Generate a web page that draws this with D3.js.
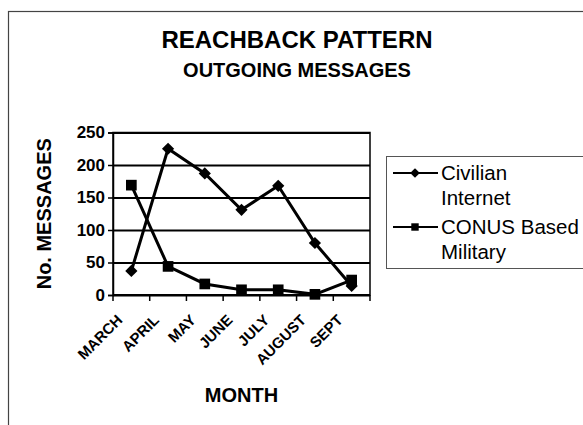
<!DOCTYPE html>
<html>
<head>
<meta charset="utf-8">
<script src="https://cdn.jsdelivr.net/npm/d3@7"></script>
<style>
  body { margin: 0; background: #fff; }
  svg { font-family: "Liberation Sans", Arial, sans-serif; }
</style>
</head>
<body>
<div id="chart"></div>
<script>
var w = 583;
var h = 425;

// chart values
var months = ["MARCH", "APRIL", "MAY", "JUNE", "JULY", "AUGUST", "SEPT"];
var civilian = [37, 225, 187, 131, 168, 80, 14];
var military = [169, 44, 17, 8, 8, 1, 23];
var yTicks = [0, 50, 100, 150, 200, 250];
var seriesNames = [["Civilian", "Internet"], ["CONUS Based", "Military"]];

var plot = {left: 113, right: 370, top: 132.5, bottom: 295};

var svg = d3.select("#chart")
            .append("svg")
            .attr("width", w)
            .attr("height", h);

// outer chart frame (runs off the right and bottom edge)
svg.append("rect")
    .attr("x", 8.5).attr("y", 11.5)
    .attr("width", 700).attr("height", 600)
    .attr("fill", "none")
    .attr("stroke", "#444")
    .attr("stroke-width", 1.2);

// titles
svg.append("text")
    .attr("x", 297).attr("y", 48)
    .attr("text-anchor", "middle")
    .style("font-size", "24px").style("font-weight", "bold")
    .text("REACHBACK PATTERN");
svg.append("text")
    .attr("x", 297).attr("y", 77)
    .attr("text-anchor", "middle")
    .style("font-size", "20px").style("font-weight", "bold")
    .text("OUTGOING MESSAGES");

// scales
var xScale = d3.scaleBand()
    .domain(months)
    .range([plot.left, plot.right]);
var tickScale = d3.scaleLinear()
    .domain([0, months.length])
    .range([plot.left, plot.right]);
var yScale = d3.scaleLinear()
    .domain([0, 250])
    .range([plot.bottom, plot.top]);

// plot area
svg.append("rect")
    .attr("x", plot.left).attr("y", plot.top)
    .attr("width", plot.right - plot.left)
    .attr("height", plot.bottom - plot.top)
    .attr("fill", "#fff")
    .attr("stroke", "#000")
    .attr("stroke-width", 1.5);

// gridlines
svg.append("g")
    .attr("transform", "translate(" + plot.left + ",0)")
    .call(d3.axisLeft(yScale).tickValues(yTicks).tickSize(-(plot.right - plot.left)).tickFormat(""))
    .call(g => g.select(".domain").remove())
    .selectAll("line")
    .attr("stroke", "#000")
    .attr("stroke-width", 1.8);

// y axis
var yAxis = svg.append("g")
    .attr("transform", "translate(" + plot.left + ",0)")
    .call(d3.axisLeft(yScale).tickValues(yTicks).tickSize(5).tickPadding(3));
yAxis.select(".domain").attr("stroke", "#000").attr("stroke-width", 1.5);
yAxis.selectAll("line").attr("stroke", "#000").attr("stroke-width", 1.5);
yAxis.selectAll("text")
    .style("font-size", "17px").style("font-weight", "bold")
    .attr("fill", "#000");

// x axis line and ticks between categories
var xAxisG = svg.append("g")
    .attr("transform", "translate(0," + plot.bottom + ")");
xAxisG.append("line")
    .attr("x1", plot.left).attr("x2", plot.right)
    .attr("stroke", "#000").attr("stroke-width", 2);
xAxisG.selectAll(".xtick")
    .data(d3.range(months.length + 1))
    .enter()
    .append("line")
    .attr("class", "xtick")
    .attr("x1", d => tickScale(d)).attr("x2", d => tickScale(d))
    .attr("y1", 0).attr("y2", 6)
    .attr("stroke", "#000").attr("stroke-width", 1.5);

// x labels
svg.append("g")
    .attr("transform", "translate(0," + plot.bottom + ")")
    .call(d3.axisBottom(xScale).tickSize(0))
    .call(g => g.select(".domain").remove())
    .selectAll("text")
    .attr("y", 0).attr("dy", 0)
    .attr("transform", "translate(-8,26) rotate(-45)")
    .style("text-anchor", "end")
    .style("font-size", "15px").style("font-weight", "bold")
    .attr("fill", "#000");

// axis titles
svg.append("text")
    .attr("x", (plot.left + plot.right) / 2).attr("y", 402)
    .attr("text-anchor", "middle")
    .style("font-size", "20px").style("font-weight", "bold")
    .text("MONTH");
svg.append("text")
    .attr("transform", "translate(51," + ((plot.top + plot.bottom) / 2) + ") rotate(-90)")
    .attr("text-anchor", "middle")
    .style("font-size", "20px").style("font-weight", "bold")
    .text("No. MESSAGES");

// lines
var line = d3.line()
    .x((d, i) => xScale(months[i]) + xScale.bandwidth() / 2)
    .y(d => yScale(d));

svg.append("path")
    .datum(civilian)
    .attr("d", line)
    .attr("fill", "none").attr("stroke", "#000").attr("stroke-width", 3);
svg.append("path")
    .datum(military)
    .attr("d", line)
    .attr("fill", "none").attr("stroke", "#000").attr("stroke-width", 3);

var diamond = d3.symbol().type(d3.symbolDiamond2).size(95);
var square = d3.symbol().type(d3.symbolSquare2).size(145);

svg.selectAll(".civ")
    .data(civilian)
    .enter()
    .append("path")
    .attr("class", "civ")
    .attr("d", diamond)
    .attr("transform", (d, i) => "translate(" + (xScale(months[i]) + xScale.bandwidth() / 2) + "," + yScale(d) + ")")
    .attr("fill", "#000");
svg.selectAll(".mil")
    .data(military)
    .enter()
    .append("path")
    .attr("class", "mil")
    .attr("d", square)
    .attr("transform", (d, i) => "translate(" + (xScale(months[i]) + xScale.bandwidth() / 2) + "," + yScale(d) + ")")
    .attr("fill", "#000");

// legend
var legend = svg.append("g");
legend.append("rect")
    .attr("x", 386.5).attr("y", 156.5)
    .attr("width", 300).attr("height", 112)
    .attr("fill", "#fff")
    .attr("stroke", "#555")
    .attr("stroke-width", 1);

var legendRows = [173, 227];
var legendSymbols = [d3.symbol().type(d3.symbolDiamond2).size(60), d3.symbol().type(d3.symbolSquare2).size(70)];

legendRows.forEach(function(y, i) {
    legend.append("line")
        .attr("x1", 393).attr("x2", 438)
        .attr("y1", y).attr("y2", y)
        .attr("stroke", "#000").attr("stroke-width", 2);
    legend.append("path")
        .attr("d", legendSymbols[i])
        .attr("transform", "translate(415," + y + ")")
        .attr("fill", "#000");
    seriesNames[i].forEach(function(t, j) {
        legend.append("text")
            .attr("x", 441).attr("y", y + 7 + j * 25)
            .style("font-size", "20.5px")
            .text(t);
    });
});
</script>
</body>
</html>
